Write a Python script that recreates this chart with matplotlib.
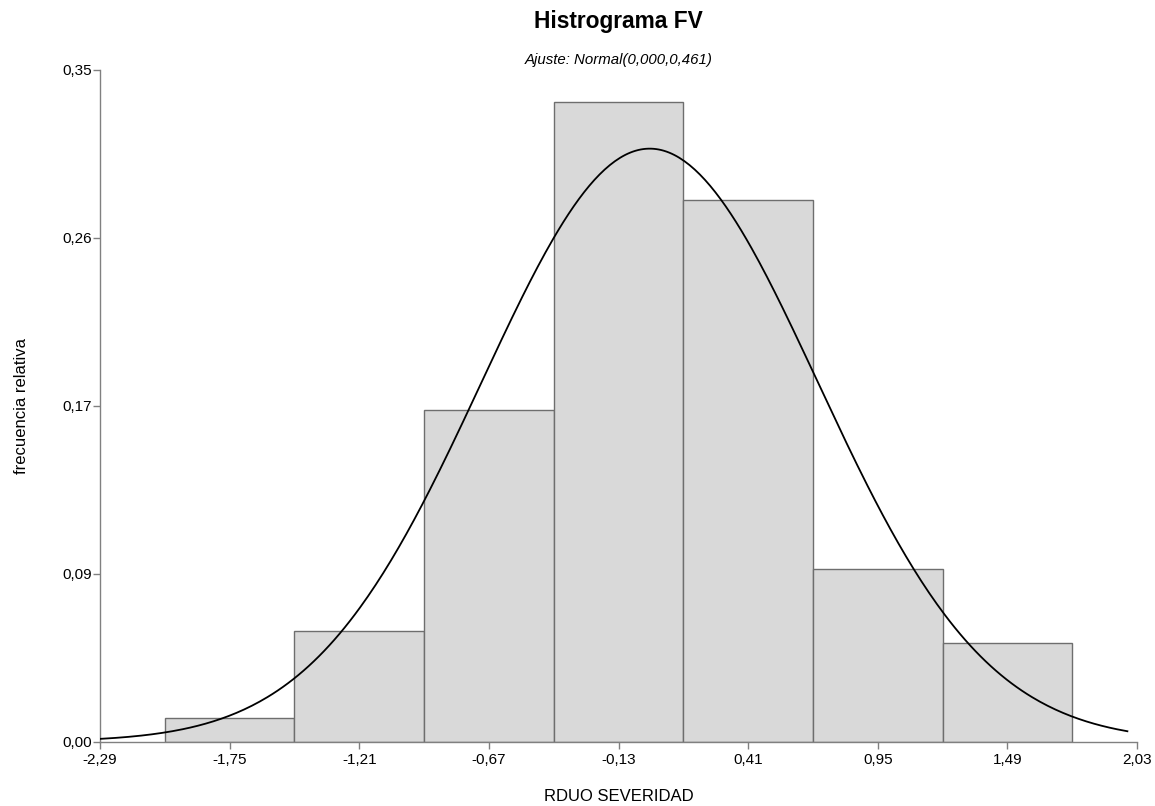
import numpy as np
import matplotlib
matplotlib.use("Agg")
import matplotlib.pyplot as plt

plt.rcParams['font.family'] = ['Liberation Sans', 'DejaVu Sans']

# bin centres sit on the x tick positions, width = one tick step
bin_centers = [-1.75, -1.21, -0.67, -0.13, 0.41, 0.95, 1.49]
rel_freq = [0.0125, 0.0577, 0.1729, 0.3335, 0.2820, 0.0898, 0.0514]
bin_width = 0.54

x_ticks = [-2.29, -1.75, -1.21, -0.67, -0.13, 0.41, 0.95, 1.49, 2.03]
x_labels = ["-2,29", "-1,75", "-1,21", "-0,67", "-0,13", "0,41", "0,95", "1,49", "2,03"]
y_ticks = [0.0, 0.0875, 0.175, 0.2625, 0.35]
y_labels = ["0,00", "0,09", "0,17", "0,26", "0,35"]

# fitted curve as drawn
fit_mean = 0.0
fit_sd = 0.70
fit_peak = 0.309
curve_x = np.linspace(-2.29, 1.99, 400)
curve_y = fit_peak * np.exp(-0.5 * ((curve_x - fit_mean) / fit_sd) ** 2)

fig = plt.figure(figsize=(11.55, 8.06), dpi=100)
ax = fig.add_axes([0.0866, 0.0798, 0.8978, 0.8334])

ax.bar(bin_centers, rel_freq, width=bin_width, color="#d9d9d9",
       edgecolor="#6e6e6e", linewidth=1.0, zorder=2)
ax.plot(curve_x, curve_y, color="black", linewidth=1.3, zorder=3)

ax.set_xlim(-2.29, 2.03)
ax.set_ylim(0, 0.35)
ax.set_xticks(x_ticks)
ax.set_xticklabels(x_labels)
ax.set_yticks(y_ticks)
ax.set_yticklabels(y_labels)

for s in ["top", "right"]:
    ax.spines[s].set_visible(False)
for s in ["left", "bottom"]:
    ax.spines[s].set_color("#808080")
    ax.spines[s].set_linewidth(1.0)
ax.tick_params(axis="both", colors="#808080", labelcolor="black",
               labelsize=11, length=5, width=1.0)
ax.tick_params(axis="x", pad=3)
ax.tick_params(axis="y", pad=1)

ax.set_xlabel("RDUO SEVERIDAD", fontsize=12, labelpad=16)
ax.set_ylabel("frecuencia relativa", fontsize=12, labelpad=24)

fig.text(0.5355, 0.988, "Histrograma FV", fontsize=16.4, fontweight="bold",
         ha="center", va="top")
fig.text(0.5355, 0.925, "Ajuste: Normal(0,000,0,461)", fontsize=10.8,
         style="italic", ha="center", va="center")

fig.savefig("out.png", dpi=100, facecolor="white")
